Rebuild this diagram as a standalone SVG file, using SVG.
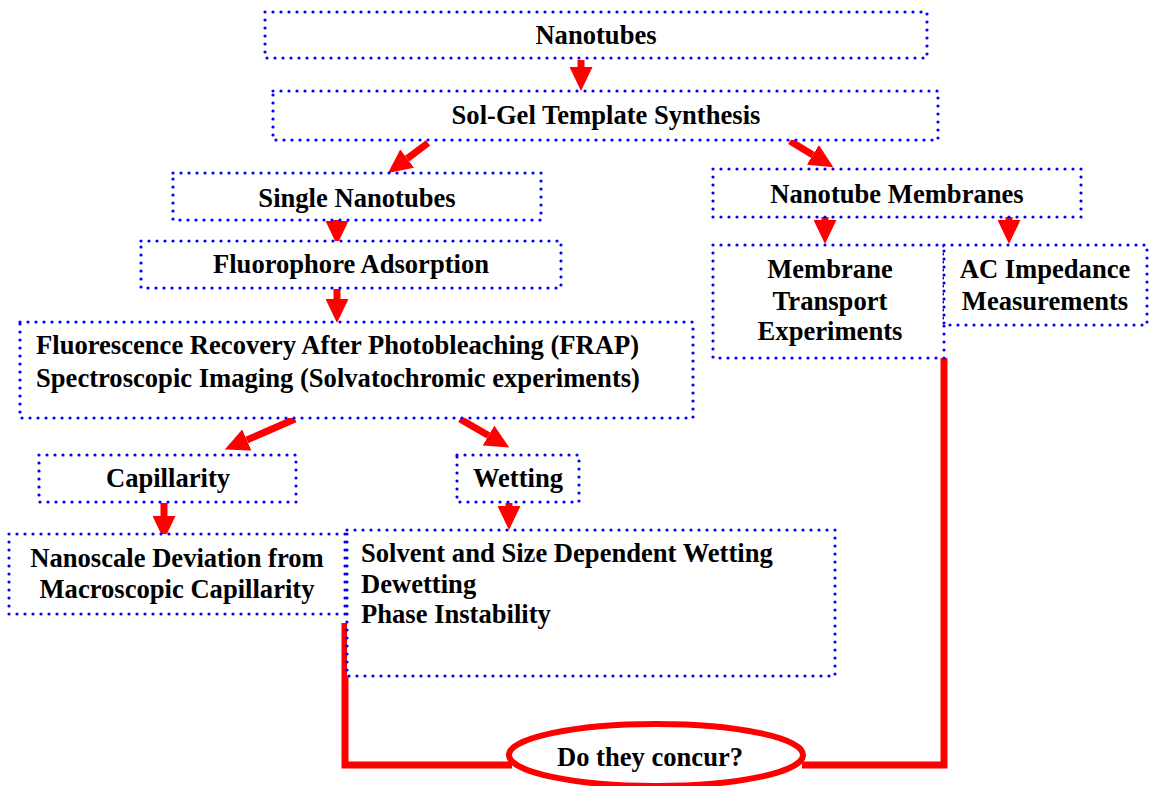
<svg xmlns="http://www.w3.org/2000/svg" width="1149" height="786" viewBox="0 0 1149 786">
<style>
.box{fill:#fff;stroke:#0000ff;stroke-width:3.2;stroke-dasharray:0 8;stroke-linecap:round}
.t{font-family:"Liberation Serif","Times New Roman",serif;font-weight:bold;font-size:26.6px;fill:#000}
.c{text-anchor:middle}
.arr{stroke:#ff0000;stroke-width:7;fill:none;marker-end:url(#ah)}
.wire{stroke:#ff0000;stroke-width:7;fill:none}
</style>
<defs>
<marker id="ah" markerUnits="userSpaceOnUse" markerWidth="24" markerHeight="23" refX="0" refY="11.5" orient="auto" viewBox="0 0 24 23">
<path d="M0,0 L24,11.5 L0,23 Z" fill="#ff0000"/>
</marker>
</defs>
<rect width="1149" height="786" fill="#fff"/>
<g id="connectors">
<line class="arr" x1="581" y1="60" x2="581" y2="67"/>
<line class="arr" x1="428" y1="143" x2="407.2" y2="158.6"/>
<line class="arr" x1="790" y1="141" x2="812.9" y2="154.9"/>
<line class="arr" x1="337" y1="220" x2="337" y2="221"/>
<line class="arr" x1="337" y1="289" x2="337" y2="299"/>
<line class="arr" x1="295" y1="419" x2="246.8" y2="440"/>
<line class="arr" x1="460" y1="419" x2="488.5" y2="435.5"/>
<line class="arr" x1="164" y1="503" x2="164" y2="516"/>
<line class="arr" x1="509" y1="503" x2="509" y2="506"/>
<line class="arr" x1="825" y1="216" x2="825" y2="220"/>
<line class="arr" x1="1009" y1="216" x2="1009" y2="220"/>
<polyline class="wire" points="345,623 345,765 512,765"/>
<polyline class="wire" points="802,765 944,765 944,358"/>
</g>
<g id="n1"><rect class="box" x="265" y="12" width="662" height="46"/><text class="t c" x="596" y="44">Nanotubes</text></g>
<g id="n2"><rect class="box" x="273" y="91" width="665" height="49"/><text class="t c" x="606" y="124">Sol-Gel Template Synthesis</text></g>
<g id="n3"><rect class="box" x="173" y="173" width="368" height="47"/><text class="t c" x="357" y="207">Single Nanotubes</text></g>
<g id="n4"><rect class="box" x="141" y="241" width="420" height="47"/><text class="t c" x="351" y="273">Fluorophore Adsorption</text></g>
<g id="n5"><rect class="box" x="20" y="322" width="673" height="96"/><text class="t" x="36" y="354">Fluorescence Recovery After Photobleaching (FRAP)</text><text class="t" x="36" y="387">Spectroscopic Imaging (Solvatochromic experiments)</text></g>
<g id="n6"><rect class="box" x="39" y="455" width="257" height="47"/><text class="t c" x="168" y="487">Capillarity</text></g>
<g id="n7"><rect class="box" x="457" y="455" width="122" height="47"/><text class="t c" x="518" y="487">Wetting</text></g>
<g id="n8"><rect class="box" x="9" y="534" width="336" height="80"/><text class="t c" x="177" y="567">Nanoscale Deviation from</text><text class="t c" x="177" y="598">Macroscopic Capillarity</text></g>
<g id="n9"><rect class="box" x="347" y="530" width="488" height="146"/><text class="t" x="361" y="562">Solvent and Size Dependent Wetting</text><text class="t" x="361" y="593">Dewetting</text><text class="t" x="361" y="623">Phase Instability</text></g>
<g id="n10"><rect class="box" x="713" y="169" width="368" height="48"/><text class="t c" x="897" y="203">Nanotube Membranes</text></g>
<g id="n11"><rect class="box" x="713" y="245" width="231" height="113"/><text class="t c" x="830" y="278">Membrane</text><text class="t c" x="830" y="310">Transport</text><text class="t c" x="830" y="340">Experiments</text></g>
<g id="n12"><rect class="box" x="944" y="245" width="203" height="80"/><text class="t c" x="1045" y="278">AC Impedance</text><text class="t c" x="1045" y="310">Measurements</text></g>
<g id="n13"><ellipse cx="656" cy="755" rx="147" ry="31" fill="#fff" stroke="#ff0000" stroke-width="6"/><text class="t c" x="650" y="766">Do they concur?</text></g>
</svg>
